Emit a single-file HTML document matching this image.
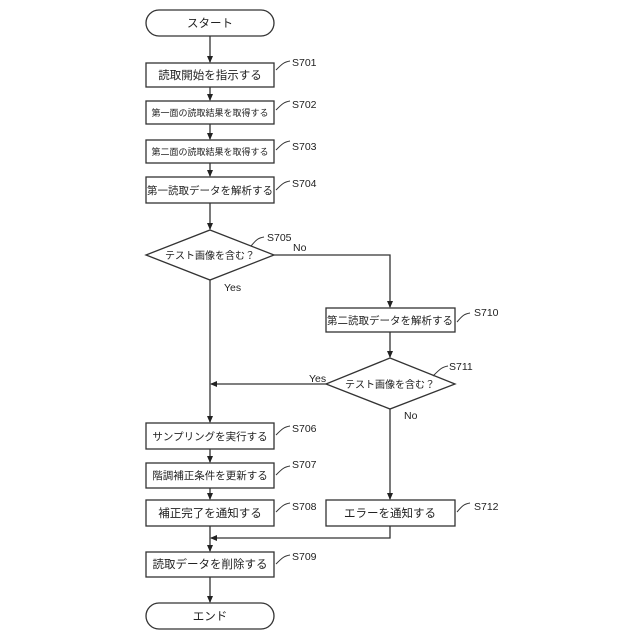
<!DOCTYPE html>
<html><head><meta charset="utf-8"><style>
html,body{margin:0;padding:0;background:#fff}
svg{display:block}
text{font-family:"Liberation Sans","Noto Sans CJK JP",sans-serif;fill:#222}
.b{font-size:11.5px}
.s{font-size:9px}
.n{font-size:10.5px}
.l{font-size:10.5px;font-family:"Liberation Sans Narrow","Liberation Sans",sans-serif}
</style></head><body>
<svg width="640" height="640" viewBox="0 0 640 640" xmlns="http://www.w3.org/2000/svg">
<defs><marker id="a" markerWidth="8" markerHeight="8" refX="6" refY="4" orient="auto" markerUnits="userSpaceOnUse"><path d="M0,1 L7,4 L0,7 z" fill="#222"/></marker></defs>
<g fill="none" stroke="#333" stroke-width="1.3">
<rect x="146" y="10" width="128" height="26" rx="13"/>
<rect x="146" y="63" width="128" height="24"/>
<rect x="146" y="101" width="128" height="23"/>
<rect x="146" y="140" width="128" height="23"/>
<rect x="146" y="177" width="128" height="26"/>
<polygon points="210,230 274,255 210,280 146,255"/>
<rect x="326" y="308" width="129" height="24"/>
<polygon points="390,358 455,384 390,409 326,384"/>
<rect x="146" y="423" width="128" height="26"/>
<rect x="146" y="463" width="128" height="25"/>
<rect x="146" y="500" width="128" height="26"/>
<rect x="326" y="500" width="129" height="26"/>
<rect x="146" y="552" width="128" height="25"/>
<rect x="146" y="603" width="128" height="26" rx="13"/>
</g>
<g stroke="#333" stroke-width="1.3" fill="none" marker-end="url(#a)">
<line x1="210" y1="36" x2="210" y2="62"/>
<line x1="210" y1="87" x2="210" y2="100"/>
<line x1="210" y1="124" x2="210" y2="139"/>
<line x1="210" y1="163" x2="210" y2="176"/>
<line x1="210" y1="203" x2="210" y2="229"/>
<polyline points="274,255 390,255 390,307"/>
<line x1="390" y1="332" x2="390" y2="357"/>
<line x1="210" y1="280" x2="210" y2="422"/>
<line x1="326" y1="384" x2="211" y2="384"/>
<line x1="390" y1="409" x2="390" y2="499"/>
<line x1="210" y1="449" x2="210" y2="462"/>
<line x1="210" y1="488" x2="210" y2="499"/>
<line x1="210" y1="526" x2="210" y2="551"/>
<polyline points="390,526 390,538 211,538"/>
<line x1="210" y1="577" x2="210" y2="602"/>
</g>
<g stroke="#333" stroke-width="1" fill="none">
<path d="M276,70 C282,64 284,62 290,61"/>
<path d="M276,110 C282,104 284,102 290,101"/>
<path d="M276,150 C282,144 284,142 290,141"/>
<path d="M276,190 C282,184 284,182 290,181"/>
<path d="M251,246 C256,240 258,238 264,237"/>
<path d="M457,322 C462,316 464,314 470,313"/>
<path d="M433,376 C440,369 442,367 448,366"/>
<path d="M276,435 C282,429 284,427 290,426"/>
<path d="M276,475 C282,469 284,467 290,466"/>
<path d="M276,512 C282,506 284,504 290,503"/>
<path d="M457,512 C462,506 464,504 470,503"/>
<path d="M276,564 C282,558 284,556 290,555"/>
</g>
<g class="b" text-anchor="middle">
<text x="210" y="27">スタート</text>
<text x="210" y="79">読取開始を指示する</text>
<text class="s" x="210" y="116">第一面の読取結果を取得する</text>
<text class="s" x="210" y="155">第二面の読取結果を取得する</text>
<text class="n" x="210" y="194">第一読取データを解析する</text>
<text class="s" x="210" y="259" style="font-size:10px">テスト画像を含む？</text>
<text class="n" x="390" y="324">第二読取データを解析する</text>
<text class="s" x="390" y="388" style="font-size:10px">テスト画像を含む？</text>
<text class="n" x="210" y="440">サンプリングを実行する</text>
<text class="n" x="210" y="479">階調補正条件を更新する</text>
<text x="210" y="517">補正完了を通知する</text>
<text x="390" y="517">エラーを通知する</text>
<text x="210" y="568">読取データを削除する</text>
<text x="210" y="620">エンド</text>
</g>
<g class="l">
<text x="292" y="66">S701</text>
<text x="292" y="108">S702</text>
<text x="292" y="150">S703</text>
<text x="292" y="187">S704</text>
<text x="267" y="241">S705</text>
<text x="293" y="251">No</text>
<text x="224" y="291">Yes</text>
<text x="474" y="316">S710</text>
<text x="449" y="370">S711</text>
<text x="309" y="382">Yes</text>
<text x="404" y="419">No</text>
<text x="292" y="432">S706</text>
<text x="292" y="468">S707</text>
<text x="292" y="510">S708</text>
<text x="474" y="510">S712</text>
<text x="292" y="560">S709</text>
</g>
</svg>
</body></html>
